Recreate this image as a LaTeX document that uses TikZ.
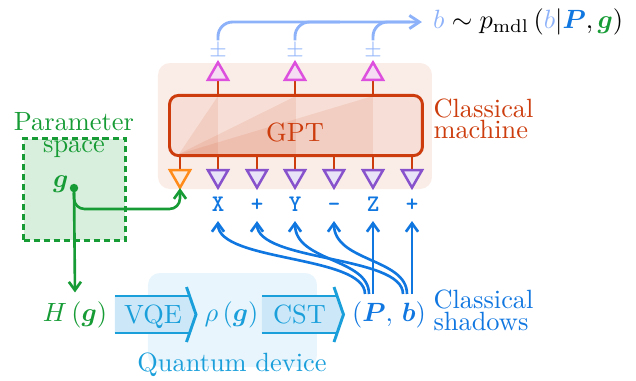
\documentclass[tikz,border=0pt]{standalone}
\usepackage{amsmath}
\usetikzlibrary{arrows.meta,shapes.geometric,backgrounds}
\definecolor{clsred}{HTML}{CC3C0C}
\definecolor{peachbg}{HTML}{FAEDE8}
\definecolor{gptfill}{HTML}{F7DFD7}
\definecolor{qblue}{HTML}{1A9FDB}
\definecolor{qbg}{HTML}{E9F5FC}
\definecolor{vqefill}{HTML}{CCE8F8}
\definecolor{sblue}{HTML}{1177E0}
\definecolor{lblue}{HTML}{8EB2F9}
\definecolor{ggreen}{HTML}{169B35}
\definecolor{gbg}{HTML}{D9EFDD}
\definecolor{magc}{HTML}{DD4FDD}
\definecolor{magfill}{HTML}{F5DDF3}
\definecolor{purc}{HTML}{8852CC}
\definecolor{purfill}{HTML}{E9E3F8}
\definecolor{orc}{HTML}{FF8C1A}
\definecolor{orfill}{HTML}{FCEBDD}
\begin{document}
\begin{tikzpicture}[x=0.3788pt,y=-0.3788pt,
 wire/.style={draw=clsred,line width=1pt},
 tri/.style={regular polygon,regular polygon sides=3,minimum size=8.8pt,inner sep=0pt,outer sep=0pt,line width=0.95pt},
 outtri/.style={tri,draw=magc,fill=magfill},
 intri/.style={tri,shape border rotate=180,draw=purc,fill=purfill},
 firsttri/.style={tri,shape border rotate=180,draw=orc,fill=orfill},
 pauli/.style={font=\small\ttfamily\bfseries,text=sblue,inner sep=3.6pt,anchor=base,text height=5.4pt,text depth=0pt},
 pmlbl/.style={font=\footnotesize,text=lblue,inner sep=1pt},
 sarrow/.style={draw=sblue,line width=1pt,-{Straight Barb[length=3.2pt,width=4.6pt]}},
 larrow/.style={draw=lblue,line width=1.1pt},
 garrow/.style={draw=ggreen,line width=1pt,-{Straight Barb[length=3.2pt,width=4.6pt]}},
 qline/.style={draw=qblue,line width=1.1pt},
 txt/.style={inner sep=0pt},
]
\useasboundingbox (0,0) rectangle (636,380);
% backgrounds
\begin{scope}[on background layer]
\fill[peachbg,rounded corners=4.5pt] (158,63) rectangle (432,189);
\fill[qbg,rounded corners=4.5pt] (148,273) rectangle (317,367);
\end{scope}
% parameter space
\node[draw=ggreen,dash pattern=on 2.3pt off 1.5pt,line width=1.1pt,fill=gbg,minimum width=38.6pt,minimum height=38.6pt,inner sep=0pt] (pbox) at (74.5,189.5) {};
\node[txt,text=ggreen,anchor=base] (par1) at (74,130) {Parameter};
\node[txt,text=ggreen,anchor=base] (par2) at (74,152) {space};
\node[circle,fill=ggreen,inner sep=0pt,minimum size=3.2pt] (gdot) at (74,188) {};
\node[txt,text=ggreen,anchor=base east] (glbl) at (69,187) {$\boldsymbol{g}$};
% GPT
\node[draw=clsred,line width=1.1pt,fill=gptfill,rounded corners=3.4pt,minimum width=95.8pt,minimum height=22.8pt,inner sep=0pt] (gpt) at (296,125.5) {};
\foreach \x in {218,296,373}
  \fill[clsred,fill opacity=0.1] (179,154) -- (\x,96) -- (\x,154) -- cycle;
\node[txt,text=clsred,anchor=base] (gpttxt) at (295,141) {GPT};
\node[txt,text=clsred,anchor=base west] (cm1) at (433,117) {Classical};
\node[txt,text=clsred,anchor=base west] (cm2) at (433,138) {machine};
% outputs
\foreach \i/\x in {1/218,2/295,3/373}{
  \node[outtri] (o\i) at (\x,74) {};
  \node[pmlbl] (pm\i) at (\x,51) {$\pm$};
}
% inputs
\node[firsttri] (i0) at (180,176) {};
\foreach \i/\x in {1/218,2/257,3/295,4/334,5/373,6/412}
  \node[intri] (i\i) at (\x,176) {};
\foreach \i/\x/\t in {1/218/X,2/257/+,3/295/Y,4/334/-,5/373/Z,6/412/+}
  \node[pauli] (l\i) at (\x,211) {\t};
\begin{scope}[on background layer]
\foreach \i in {1,2,3} \draw[wire] (o\i.center) -- (o\i.center |- gpt.north);
\foreach \i in {0,...,6} \draw[wire] (i\i.center) -- (i\i.center |- gpt.south);
\end{scope}
% output arrow
\node[anchor=west,inner sep=4pt] (lab) at (422,22) {$\textcolor{lblue}{b}\sim p_{\mathrm{mdl}}\left(\textcolor{lblue}{b}\middle|\textcolor{sblue}{\boldsymbol{P}},\textcolor{ggreen}{\boldsymbol{g}}\right)$};
\coordinate (j2) at (340,22);
\coordinate (j3) at (410,22);
\draw[larrow,rounded corners=5.5pt,-{Straight Barb[length=3.8pt,width=5pt]}] (pm1.north) |- (lab.west);
\draw[larrow,rounded corners=5.5pt] (pm2.north) |- (j2);
\draw[larrow,rounded corners=5.5pt] (pm3.north) |- (j3);
% quantum device
\fill[vqefill] (115,296) -- (189.5,296) -- (196,314.5) -- (189.5,333) -- (115,333) -- cycle;
\draw[qline] (115,296) -- (189.5,296) (115,333) -- (189.5,333);
\draw[qline] (186.5,287) -- (196,314.5) -- (186.5,342);
\fill[vqefill] (262,296) -- (337,296) -- (343.5,314.5) -- (337,333) -- (262,333) -- cycle;
\draw[qline] (262,296) -- (337,296) (262,333) -- (337,333);
\draw[qline] (334,287) -- (343.5,314.5) -- (334,342);
\node[txt,text=qblue,anchor=base] (vqe) at (153,323) {VQE};
\node[text=qblue] (rho) at (231.5,315) {$\rho\left(\boldsymbol{g}\right)$};
\node[txt,text=qblue,anchor=base] (cst) at (299.5,323) {CST};
\node[txt,text=qblue,anchor=base] (qd) at (232,371) {Quantum device};
\node[text=ggreen] (hg) at (75,315) {$H\left(\boldsymbol{g}\right)$};
% green arrows
\draw[garrow] (gdot) -- (hg.north);
\draw[garrow,rounded corners=4pt] (gdot.center) -- (74,209) -| ([yshift=-4.6pt]i0.center);
% shadows
\node[text=sblue] (pb) at (389,315) {$(\boldsymbol{P},\,\boldsymbol{b})$};
\node[txt,text=sblue,anchor=base west] (cs1) at (433,308) {Classical};
\node[txt,text=sblue,anchor=base west] (cs2) at (433,330) {shadows};
\coordinate (s1) at (365,294);
\coordinate (s2) at (369,294);
\coordinate (s3) at (373,294);
\coordinate (s4) at (403,294);
\coordinate (s5) at (407,294);
\coordinate (s6) at (412,294);
\draw[sarrow] (s1) .. controls (365,255) and (218,262) .. (l1.south);
\draw[sarrow] (s4) .. controls (403,255) and (257,262) .. (l2.south);
\draw[sarrow] (s2) .. controls (369,258) and (295,262) .. (l3.south);
\draw[sarrow] (s5) .. controls (407,258) and (334,262) .. (l4.south);
\draw[sarrow] (s3) -- (l5.south);
\draw[sarrow] (s6) -- (l6.south);
\end{tikzpicture}
\end{document}
